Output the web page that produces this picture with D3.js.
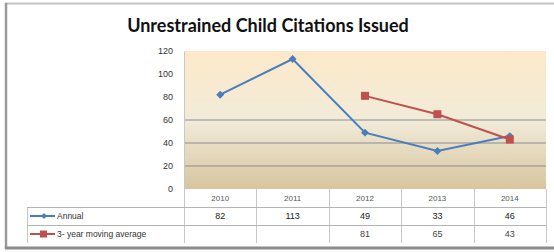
<!DOCTYPE html>
<html>
<head>
<meta charset="utf-8">
<script src="https://cdn.jsdelivr.net/npm/d3@7"></script>
<style>
  body { margin: 0; background: #fff; }
  svg { display: block; }
  .tick text { font-family: "Liberation Sans", Arial, sans-serif; }
</style>
</head>
<body>
<div id="chart"></div>
<script>
// chart data
var years = ["2010", "2011", "2012", "2013", "2014"];
var annual = [82, 113, 49, 33, 46];
var movingAvg = [null, null, 81, 65, 43];
var seriesNames = ["Annual", "3- year moving average"];
var yTicks = [0, 20, 40, 60, 80, 100, 120];

var svgWidth = 554, svgHeight = 252;
var plot = { left: 184, right: 546, top: 51, bottom: 189 };
var rowH = 18;
var tableLeft = 27;

var blue = "#4a7ebb", red = "#c0504d";

var svg = d3.select("#chart").append("svg")
    .attr("width", svgWidth)
    .attr("height", svgHeight);

// outer frame
svg.append("line").attr("x1", 5).attr("x2", 554).attr("y1", 3.5).attr("y2", 3.5)
    .attr("stroke", "#c4c4c4").attr("stroke-width", 2);
svg.append("line").attr("x1", 6).attr("x2", 6).attr("y1", 3).attr("y2", 249)
    .attr("stroke", "#9a9a9a").attr("stroke-width", 2.5);
svg.append("line").attr("x1", 5).attr("x2", 554).attr("y1", 248).attr("y2", 248)
    .attr("stroke", "#8a8a8a").attr("stroke-width", 3);

// title
svg.append("text")
    .attr("x", 268).attr("y", 32)
    .attr("text-anchor", "middle")
    .style("font-family", "Lato, 'Open Sans', sans-serif")
    .style("font-weight", "bold")
    .style("font-size", "18px")
    .attr("fill", "#111")
    .text("Unrestrained Child Citations Issued");

var x = d3.scaleBand().domain(years).range([plot.left, plot.right]);
var y = d3.scaleLinear().domain([0, 120]).range([plot.bottom, plot.top]);

// plot background gradient
var defs = svg.append("defs");
var grad = defs.append("linearGradient").attr("id", "bg")
    .attr("x1", 0).attr("x2", 0).attr("y1", 0).attr("y2", 1);
grad.append("stop").attr("offset", "0%").attr("stop-color", "#fde9c9");
grad.append("stop").attr("offset", "50%").attr("stop-color", "#f1ebd9");
grad.append("stop").attr("offset", "100%").attr("stop-color", "#d7c59e");

svg.append("rect")
    .attr("x", plot.left).attr("y", plot.top)
    .attr("width", plot.right - plot.left).attr("height", plot.bottom - plot.top)
    .attr("fill", "url(#bg)");

// gridlines (only the lower ones show in the original)
svg.append("g").selectAll("line")
    .data([20, 40, 60])
    .join("line")
    .attr("x1", plot.left).attr("x2", plot.right)
    .attr("y1", d => y(d)).attr("y2", d => y(d))
    .attr("stroke", "#8c8c8c").attr("stroke-width", 1);

// y axis
var yAxis = svg.append("g")
    .attr("transform", `translate(${plot.left},0)`)
    .call(d3.axisLeft(y).tickValues(yTicks).tickSize(0).tickPadding(11));
yAxis.select(".domain").attr("stroke", "#c8c8c8");
yAxis.selectAll("text").style("font-size", "9px").attr("fill", "#333");

// data table grid
var grid = svg.append("g").attr("stroke", "#c8c8c8").attr("stroke-width", 1);
var bounds = years.map(d => x(d)).concat([plot.right]);
grid.selectAll("line.v")
    .data(bounds)
    .join("line")
    .attr("class", "v")
    .attr("x1", d => Math.round(d) + 0.5).attr("x2", d => Math.round(d) + 0.5)
    .attr("y1", plot.bottom).attr("y2", plot.bottom + rowH * 3);
grid.append("line")
    .attr("x1", tableLeft + 0.5).attr("x2", tableLeft + 0.5)
    .attr("y1", plot.bottom + rowH).attr("y2", plot.bottom + rowH * 3);
grid.selectAll("line.h")
    .data([1, 2])
    .join("line")
    .attr("class", "h")
    .attr("x1", tableLeft).attr("x2", plot.right)
    .attr("y1", d => plot.bottom + rowH * d + 0.5).attr("y2", d => plot.bottom + rowH * d + 0.5)
    .attr("stroke", "#b4b4b4");

var tableFont = "'Liberation Sans', Arial, sans-serif";

// header years
svg.append("g").selectAll("text")
    .data(years)
    .join("text")
    .attr("x", d => x(d) + x.bandwidth() / 2)
    .attr("y", plot.bottom + 12)
    .attr("text-anchor", "middle")
    .style("font-family", tableFont).style("font-size", "8px")
    .attr("fill", "#555")
    .text(d => d);

// value rows
[annual, movingAvg].forEach(function(vals, i) {
    svg.append("g").selectAll("text")
        .data(vals)
        .join("text")
        .attr("x", (d, j) => x(years[j]) + x.bandwidth() / 2)
        .attr("y", plot.bottom + rowH * (i + 1) + 12)
        .attr("text-anchor", "middle")
        .style("font-family", tableFont).style("font-size", "9px")
        .attr("fill", i == 0 ? "#222" : "#444")
        .text(d => d == null ? "" : d);
});

// legend keys in table
var keyColors = [blue, red];
seriesNames.forEach(function(name, i) {
    var cy = plot.bottom + rowH * (i + 1) + rowH / 2;
    var g = svg.append("g");
    g.append("line").attr("x1", 30).attr("x2", 55).attr("y1", cy).attr("y2", cy)
        .attr("stroke", keyColors[i]).attr("stroke-width", 2);
    if (i == 0) {
        g.append("path").attr("d", d3.symbol(d3.symbolDiamond2, 22)())
            .attr("transform", `translate(44,${cy})`).attr("fill", blue);
    } else {
        g.append("rect").attr("x", 40).attr("y", cy - 3.5).attr("width", 7).attr("height", 7)
            .attr("fill", red);
    }
    g.append("text")
        .attr("x", 57).attr("y", cy + 3)
        .style("font-family", tableFont).style("font-size", "8.5px")
        .attr("fill", "#333")
        .text(name);
});

// lines
var cx = d => x(d) + x.bandwidth() / 2;
var line = d3.line()
    .defined(d => d.v != null)
    .x(d => cx(d.year))
    .y(d => y(d.v));

var annualPts = years.map((d, i) => ({ year: d, v: annual[i] }));
var avgPts = years.map((d, i) => ({ year: d, v: movingAvg[i] }));

svg.append("path").datum(annualPts)
    .attr("d", line).attr("fill", "none")
    .attr("stroke", blue).attr("stroke-width", 2);
svg.append("path").datum(avgPts)
    .attr("d", line).attr("fill", "none")
    .attr("stroke", red).attr("stroke-width", 2);

svg.append("g").selectAll("path")
    .data(annualPts)
    .join("path")
    .attr("d", d3.symbol(d3.symbolDiamond2, 40)())
    .attr("transform", d => `translate(${cx(d.year)},${y(d.v)})`)
    .attr("fill", blue);

svg.append("g").selectAll("rect")
    .data(avgPts.filter(d => d.v != null))
    .join("rect")
    .attr("x", d => cx(d.year) - 4).attr("y", d => y(d.v) - 4)
    .attr("width", 8).attr("height", 8)
    .attr("fill", red);
</script>
</body>
</html>
